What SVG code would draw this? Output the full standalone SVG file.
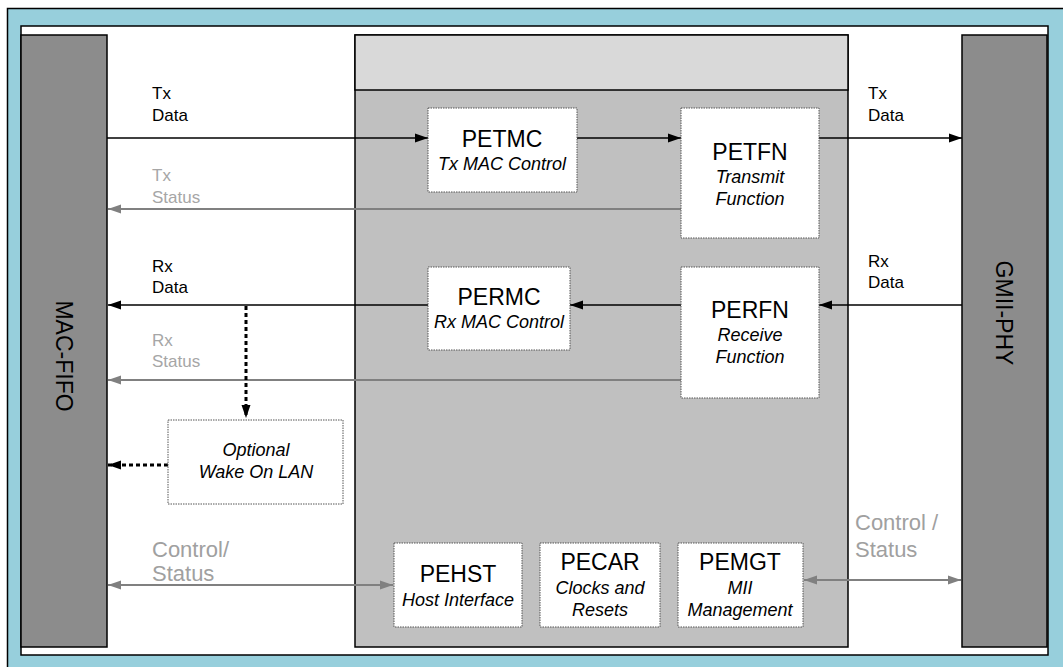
<svg xmlns="http://www.w3.org/2000/svg" width="1063" height="667" viewBox="0 0 1063 667">
<style>
text{font-family:"Liberation Sans",Arial,sans-serif;}
.lbl{font-size:17px;fill:#000;}
.lblg{font-size:17px;fill:#a6a6a6;}
.cs{font-size:22px;fill:#a0a0a0;}
.title{font-size:23px;fill:#000;text-anchor:middle;}
.sub{font-size:18px;font-style:italic;fill:#000;text-anchor:middle;}
.bar{fill:#8c8c8c;stroke:#000;stroke-width:1.5;}
.barlbl{font-size:23px;fill:#000;text-anchor:middle;}
.box{fill:#fff;stroke:#555;stroke-width:1;stroke-dasharray:1.5 1;}
.k{stroke:#000;stroke-width:1.5;fill:none;}
.g{stroke:#808080;stroke-width:2;fill:none;}
.d{stroke:#000;stroke-width:3;fill:none;stroke-dasharray:4 3;}
</style>
<defs>
<marker id="ak" markerUnits="userSpaceOnUse" markerWidth="14" markerHeight="10" refX="13" refY="5" orient="auto-start-reverse"><path d="M0,0.5 L13,5 L0,9.5 z" fill="#000"/></marker>
<marker id="ag" markerUnits="userSpaceOnUse" markerWidth="14" markerHeight="10" refX="13" refY="5" orient="auto-start-reverse"><path d="M0,0.5 L13,5 L0,9.5 z" fill="#808080"/></marker>
</defs>
<rect x="7.5" y="8.5" width="1060" height="670" fill="#97cfdc" stroke="#000" stroke-width="1.5"/>
<rect x="21" y="26" width="1027" height="629" fill="#fff" stroke="#000" stroke-width="1.5"/>

<g id="mac-fifo">
<rect class="bar" x="21" y="35" width="86" height="612"/>
<text class="barlbl" transform="translate(64,356) rotate(90)" y="8">MAC-FIFO</text>
</g>
<g id="gmii-phy">
<rect class="bar" x="962" y="35" width="85" height="612"/>
<text class="barlbl" transform="translate(1004,313) rotate(90)" y="8">GMII-PHY</text>
</g>
<g id="core">
<rect x="355" y="35" width="493" height="612" fill="#c0c0c0" stroke="#000" stroke-width="1.5"/>
<rect x="355" y="35" width="493" height="55" fill="#d9d9d9" stroke="#000" stroke-width="1.5"/>
</g>

<g id="labels">
<text class="lbl" x="152" y="99">Tx</text>
<text class="lbl" x="152" y="121">Data</text>
<text class="lblg" x="152" y="181">Tx</text>
<text class="lblg" x="152" y="203">Status</text>
<text class="lbl" x="152" y="272">Rx</text>
<text class="lbl" x="152" y="293">Data</text>
<text class="lblg" x="152" y="346">Rx</text>
<text class="lblg" x="152" y="367">Status</text>
<text class="lbl" x="868" y="99">Tx</text>
<text class="lbl" x="868" y="121">Data</text>
<text class="lbl" x="868" y="267">Rx</text>
<text class="lbl" x="868" y="288">Data</text>
<text class="cs" x="152" y="557">Control/</text>
<text class="cs" x="152" y="581">Status</text>
<text class="cs" x="855" y="530" fill="#969696">Control /</text>
<text class="cs" x="855" y="557" fill="#969696">Status</text>
</g>

<g id="connectors">
<line class="k" x1="107" y1="138" x2="428" y2="138" marker-end="url(#ak)"/>
<line class="k" x1="577" y1="138" x2="681" y2="138" marker-end="url(#ak)"/>
<line class="k" x1="819" y1="138" x2="962" y2="138" marker-end="url(#ak)"/>
<line class="g" x1="681" y1="209" x2="108" y2="209" marker-end="url(#ag)"/>
<line class="k" x1="962" y1="305" x2="819" y2="305" marker-end="url(#ak)"/>
<line class="k" x1="681" y1="305" x2="570" y2="305" marker-end="url(#ak)"/>
<line class="k" x1="428" y1="305" x2="108" y2="305" marker-end="url(#ak)"/>
<line class="g" x1="681" y1="380" x2="108" y2="380" marker-end="url(#ag)"/>
<line class="d" x1="246" y1="306" x2="246" y2="418" marker-end="url(#ak)"/>
<line class="d" x1="168" y1="465" x2="108" y2="465" marker-end="url(#ak)"/>
<line class="g" x1="108" y1="585" x2="393" y2="585" marker-start="url(#ag)" marker-end="url(#ag)"/>
<line class="g" x1="804" y1="580" x2="961" y2="580" marker-start="url(#ag)" marker-end="url(#ag)"/>
</g>

<g id="petmc">
<rect class="box" x="428" y="108" width="149" height="84"/>
<text class="title" x="502" y="147">PETMC</text>
<text class="sub" x="502" y="170">Tx MAC Control</text>
</g>
<g id="petfn">
<rect class="box" x="681" y="108" width="138" height="130"/>
<text class="title" x="750" y="160">PETFN</text>
<text class="sub" x="750" y="183">Transmit</text>
<text class="sub" x="750" y="205">Function</text>
</g>
<g id="permc">
<rect class="box" x="428" y="267" width="142" height="83"/>
<text class="title" x="499" y="305">PERMC</text>
<text class="sub" x="499" y="328">Rx MAC Control</text>
</g>
<g id="perfn">
<rect class="box" x="681" y="267" width="138" height="131"/>
<text class="title" x="750" y="318">PERFN</text>
<text class="sub" x="750" y="341">Receive</text>
<text class="sub" x="750" y="363">Function</text>
</g>
<g id="wol">
<rect class="box" x="168" y="420" width="175" height="84"/>
<text class="sub" x="256" y="456">Optional</text>
<text class="sub" x="256" y="478">Wake On LAN</text>
</g>
<g id="pehst">
<rect class="box" x="394" y="543" width="128" height="84"/>
<text class="title" x="458" y="582">PEHST</text>
<text class="sub" x="458" y="606">Host Interface</text>
</g>
<g id="pecar">
<rect class="box" x="540" y="543" width="120" height="84"/>
<text class="title" x="600" y="570">PECAR</text>
<text class="sub" x="600" y="594">Clocks and</text>
<text class="sub" x="600" y="616">Resets</text>
</g>
<g id="pemgt">
<rect class="box" x="678" y="543" width="125" height="84"/>
<text class="title" x="740" y="570">PEMGT</text>
<text class="sub" x="740" y="594">MII</text>
<text class="sub" x="740" y="616">Management</text>
</g>
</svg>
